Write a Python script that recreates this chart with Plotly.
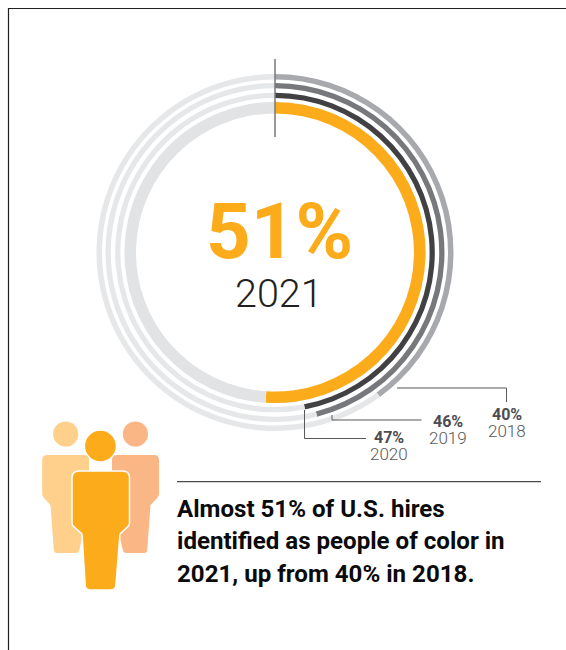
import plotly.graph_objects as go

# Data
years = ["2018", "2019", "2020", "2021"]
shares = [40, 46, 47, 51]
headline = "51%"
headline_year = "2021"
caption_lines = ["Almost 51% of U.S. hires", "identified as people of color in", "2021, up from 40% in 2018."]

# Styling
ring_colors = ["#A7A9AC", "#77787B", "#414042", "#FCAB1B"]
rest_colors = ["#E6E7E8", "#E6E7E8", "#E6E7E8", "#E1E3E5"]
ring_radii = [(178.5, 173.0), (169.5, 164.2), (159.8, 154.6), (150.6, 139.0)]
CX, CY = 275.0, 252.5
W, H = 566, 650
FONT = "Roboto"


def fx(x):
    return x / W


def fy(y):
    return 1 - y / H


fig = go.Figure()
for year, share, color, rest, (ro, ri) in zip(years, shares, ring_colors, rest_colors, ring_radii):
    fig.add_trace(go.Pie(
        values=[share, 100 - share],
        labels=[year, "Other"],
        sort=False,
        direction="clockwise",
        rotation=0,
        hole=ri / ro,
        textinfo="none",
        hoverinfo="skip",
        showlegend=False,
        marker=dict(colors=[color, rest], line=dict(width=0)),
        domain=dict(x=[fx(CX - ro), fx(CX + ro)], y=[fy(CY + ro), fy(CY - ro)]),
    ))

shapes = []


def line(points, color="#58595B", width=1.0):
    d = "M " + " L ".join(f"{fx(x):.5f},{fy(y):.5f}" for x, y in points)
    shapes.append(dict(type="path", path=d, xref="paper", yref="paper",
                       line=dict(color=color, width=width), fillcolor="rgba(0,0,0,0)"))


def circle(cx, cy, r, color):
    shapes.append(dict(type="circle", xref="paper", yref="paper",
                       x0=fx(cx - r), x1=fx(cx + r), y0=fy(cy + r), y1=fy(cy - r),
                       fillcolor=color, line=dict(width=0)))


def body(pts, color, outline=None):
    parts = []
    n = len(pts)
    for i, (x, y, rad) in enumerate(pts):
        px_, py_, _ = pts[i - 1]
        nx, ny, _ = pts[(i + 1) % n]
        d1 = ((px_ - x) ** 2 + (py_ - y) ** 2) ** 0.5
        d2 = ((nx - x) ** 2 + (ny - y) ** 2) ** 0.5
        a = (x + (px_ - x) * rad / d1, y + (py_ - y) * rad / d1)
        b = (x + (nx - x) * rad / d2, y + (ny - y) * rad / d2)
        parts.append(("M" if i == 0 else "L") + f" {fx(a[0]):.5f},{fy(a[1]):.5f}")
        parts.append(f"Q {fx(x):.5f},{fy(y):.5f} {fx(b[0]):.5f},{fy(b[1]):.5f}")
    shapes.append(dict(type="path", path=" ".join(parts) + " Z", xref="paper", yref="paper",
                       fillcolor=color,
                       line=dict(color=outline or color, width=1.5 if outline else 0)))


# Page frame
line([(8.5, 650), (8.5, 8.5), (566, 8.5)], color="#231F20", width=1.2)
# Start marker
line([(275, 59), (275, 137)], color="#77787B", width=1.5)
# Leaders
line([(397, 388), (506.5, 388), (506.5, 402)])
line([(332, 415), (332, 420), (421.5, 420)])
line([(304.5, 410), (304.5, 438.5), (366, 438.5)])
# Rule
line([(177, 481.7), (541, 481.7)], color="#231F20", width=1.0)

# People icon
LEFT_C, RIGHT_C, MID_C = "#FFD08C", "#FBB686", "#FCAB1B"
circle(65.7, 434, 12.6, LEFT_C)
body([(42.2, 455, 5), (89, 455, 5), (89, 505, 1), (78.7, 553, 3), (54, 553, 3), (50.5, 505, 0.5), (42.2, 496, 2)], LEFT_C)
circle(135.4, 434, 12.6, RIGHT_C)
body([(112, 455, 5), (159, 455, 5), (159, 496, 2), (150.5, 505, 0.5), (147, 553, 3), (123.5, 553, 3), (112, 505, 1)], RIGHT_C)
body([(72, 471, 7), (129.5, 471, 7), (129.5, 525, 2), (120, 534, 1), (115.5, 590, 5), (85.5, 590, 5), (82, 534, 1), (72, 525, 2)], MID_C, outline="#FFFFFF")
circle(100.4, 446, 15.3, MID_C)

annotations = []


def text(x, y, s, size, color, weight=400, anchor="center"):
    annotations.append(dict(x=fx(x), y=fy(y), xref="paper", yref="paper", text=s,
                            showarrow=False, xanchor=anchor, yanchor="middle",
                            font=dict(family=FONT, size=size, color=color, weight=weight)))


text(279.5, 232, headline, 78, "#FCAB1B", 700)
text(278.5, 293, headline_year, 39.5, "#231F20", 300)

label_pos = {"2018": (506.5, 414.5, 430.5), "2019": (447.5, 421.5, 437.5), "2020": (389, 437.5, 453.5)}
for year, share in zip(years[:3], shares[:3]):
    x, y1, y2 = label_pos[year]
    text(x, y1, f"{share}%", 16, "#4D4D4F", 700)
    text(x, y2, year, 17, "#58595B", 300)

for line_text, y in zip(caption_lines, [509, 541, 574]):
    text(174.5, y, line_text, 24.1, "#0B0B0B", 700, anchor="left")

fig.update_layout(
    width=W, height=H, autosize=False,
    margin=dict(l=0, r=0, t=0, b=0),
    paper_bgcolor="#FFFFFF",
    shapes=shapes,
    annotations=annotations,
    showlegend=False,
)
fig.write_html(
    "out.html",
    config={"displayModeBar": False},
    post_script="document.documentElement.style.overflow='hidden';document.body.style.margin='0';",
)
